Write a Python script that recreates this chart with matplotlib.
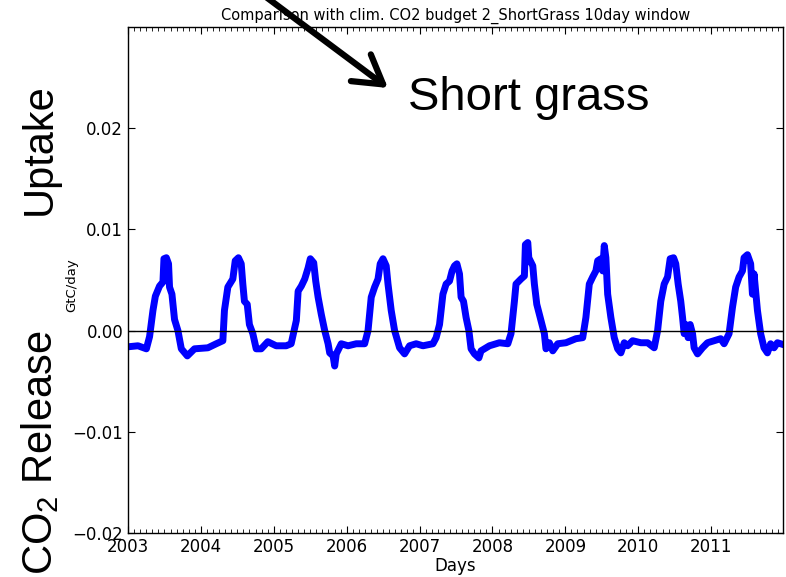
import numpy as np
import matplotlib
matplotlib.use("Agg")
import matplotlib.pyplot as plt
from matplotlib.ticker import MultipleLocator, FixedLocator

# -----------------------------
# Data: 10-day window CO2 budget, short grass (day index from 1 Jan 2003)
# -----------------------------
days = [
    0, 50, 92, 108, 125, 137, 158, 175, 180, 192, 203, 208, 220, 233, 250,
    267, 297, 333, 400, 442, 475, 483, 500, 525, 537, 553, 567, 575, 583,
    597, 608, 625, 642, 667, 700, 742, 792, 817, 843, 852, 868, 885, 902,
    913, 930, 940, 952, 968, 985, 1002, 1010, 1027, 1035, 1043, 1068, 1102,
    1143, 1185, 1202, 1218, 1235, 1252, 1263, 1277, 1293, 1302, 1318, 1335,
    1360, 1385, 1410, 1443, 1477, 1527, 1543, 1560, 1577, 1593, 1610, 1623,
    1635, 1647, 1660, 1668, 1680, 1693, 1707, 1718, 1735, 1757, 1768, 1810,
    1860, 1902, 1918, 1935, 1943, 1968, 1985, 1990, 2002, 2007, 2027, 2035,
    2047, 2068, 2085, 2093, 2110, 2127, 2152, 2193, 2243, 2277, 2293, 2310,
    2327, 2343, 2352, 2368, 2377, 2385, 2393, 2402, 2418, 2435, 2452, 2468,
    2485, 2502, 2527, 2568, 2602, 2635, 2652, 2668, 2685, 2702, 2715, 2732,
    2743, 2755, 2768, 2777, 2785, 2793, 2805, 2815, 2827, 2835, 2852, 2877,
    2902, 2935, 2968, 2985, 3010, 3027, 3043, 3060, 3077, 3085, 3102, 3118,
    3127, 3135, 3152, 3168, 3185, 3202, 3218, 3235, 3252, 3268,
]
flux = [
    -0.0016, -0.0015, -0.0018, -0.0006, 0.0020, 0.0034, 0.0044, 0.0048,
    0.0071, 0.0072, 0.0066, 0.0043, 0.0036, 0.0011, 0.0000, -0.0018,
    -0.0025, -0.0018, -0.0017, -0.0013, -0.0010, 0.0020, 0.0043, 0.0051,
    0.0069, 0.0072, 0.0066, 0.0046, 0.0029, 0.0026, 0.0006, -0.0003,
    -0.0018, -0.0018, -0.0011, -0.0015, -0.0015, -0.0013, 0.0010, 0.0039,
    0.0044, 0.0051, 0.0062, 0.0071, 0.0067, 0.0049, 0.0033, 0.0016, 0.0000,
    -0.0013, -0.0022, -0.0025, -0.0035, -0.0023, -0.0013, -0.0015, -0.0013,
    -0.0013, 0.0000, 0.0033, 0.0043, 0.0051, 0.0066, 0.0071, 0.0064, 0.0046,
    0.0020, 0.0000, -0.0017, -0.0023, -0.0015, -0.0013, -0.0015, -0.0013,
    -0.0007, 0.0006, 0.0036, 0.0046, 0.0049, 0.0059, 0.0064, 0.0066, 0.0056,
    0.0033, 0.0029, 0.0013, 0.0000, -0.0018, -0.0023, -0.0027, -0.0020,
    -0.0015, -0.0012, -0.0013, -0.0003, 0.0029, 0.0046, 0.0051, 0.0054,
    0.0085, 0.0087, 0.0072, 0.0064, 0.0046, 0.0026, 0.0010, -0.0003,
    -0.0018, -0.0012, -0.0020, -0.0013, -0.0012, -0.0008, -0.0007, 0.0013,
    0.0046, 0.0053, 0.0059, 0.0069, 0.0071, 0.0059, 0.0084, 0.0072, 0.0036,
    0.0013, -0.0007, -0.0018, -0.0022, -0.0012, -0.0015, -0.0010, -0.0012,
    -0.0012, -0.0017, 0.0000, 0.0029, 0.0046, 0.0053, 0.0071, 0.0072,
    0.0066, 0.0046, 0.0029, 0.0013, -0.0003, 0.0006, -0.0007, 0.0006,
    -0.0003, -0.0017, -0.0023, -0.0017, -0.0012, -0.0010, -0.0008, -0.0013,
    -0.0003, 0.0023, 0.0043, 0.0053, 0.0059, 0.0072, 0.0075, 0.0066,
    0.0036, 0.0056, 0.0020, -0.0003, -0.0017, -0.0022, -0.0013, -0.0017,
    -0.0012, -0.0013,
]
year_labels = ["2003", "2004", "2005", "2006", "2007", "2008", "2009", "2010", "2011"]
year_ticks = [365 * i for i in range(len(year_labels))]
y_ticks = [-0.02, -0.01, 0.00, 0.01, 0.02]

# -----------------------------
# Plot
# -----------------------------
fig = plt.figure(figsize=(7.86, 5.77), dpi=100)
ax = fig.add_axes([128 / 786, 1 - 533 / 577, 655 / 786, 506 / 577])

ax.plot(days, flux, color="#0000ff", lw=5, solid_joinstyle="round")
ax.axhline(0, color="black", lw=1)

ax.set_xlim(0, 3280)
ax.set_ylim(-0.02, 0.03)
ax.xaxis.set_major_locator(FixedLocator(year_ticks))
ax.set_xticklabels(year_labels)
ax.xaxis.set_minor_locator(MultipleLocator(365 / 12))
ax.yaxis.set_major_locator(FixedLocator(y_ticks))
ax.set_yticklabels(["\u22120.02", "\u22120.01", "0.00", "0.01", "0.02"])
ax.tick_params(which="both", direction="in", top=True, right=True, labelsize=12)
ax.tick_params(which="major", length=5, pad=3.5)
ax.tick_params(which="minor", length=3)
for s in ax.spines.values():
    s.set_linewidth(1)

ax.set_title("Comparison with clim. CO2 budget 2_ShortGrass 10day window", fontsize=10.5, pad=5)
ax.set_xlabel("Days", fontsize=12, labelpad=1)
ax.set_ylabel("GtC/day", fontsize=9.5)
ax.yaxis.set_label_coords(-0.076, 0.49)

# slide annotations
big = dict(family="Liberation Sans", color="black")
fig.text(40 / 786, 1 - 149 / 577, "Uptake", rotation=90, fontsize=30,
         ha="center", va="center", **big)
fig.text(40 / 786, 1 - 330 / 577, r"CO$_{\mathregular{2}}$ Release", rotation=90,
         fontsize=30, ha="center", va="top", **big)
fig.text(408 / 786, 1 - 110 / 577, "Short grass", fontsize=34,
         ha="left", va="baseline", **big)
fig.add_artist(matplotlib.patches.FancyArrowPatch(
    (262 / 786, 1 + 6 / 577), (388 / 786, 1 - 88 / 577),
    transform=fig.transFigure, arrowstyle="->,head_length=1.0,head_width=0.6",
    mutation_scale=20, lw=4.5, color="black", shrinkA=0, shrinkB=0))

plt.savefig("out.png", dpi=100)
